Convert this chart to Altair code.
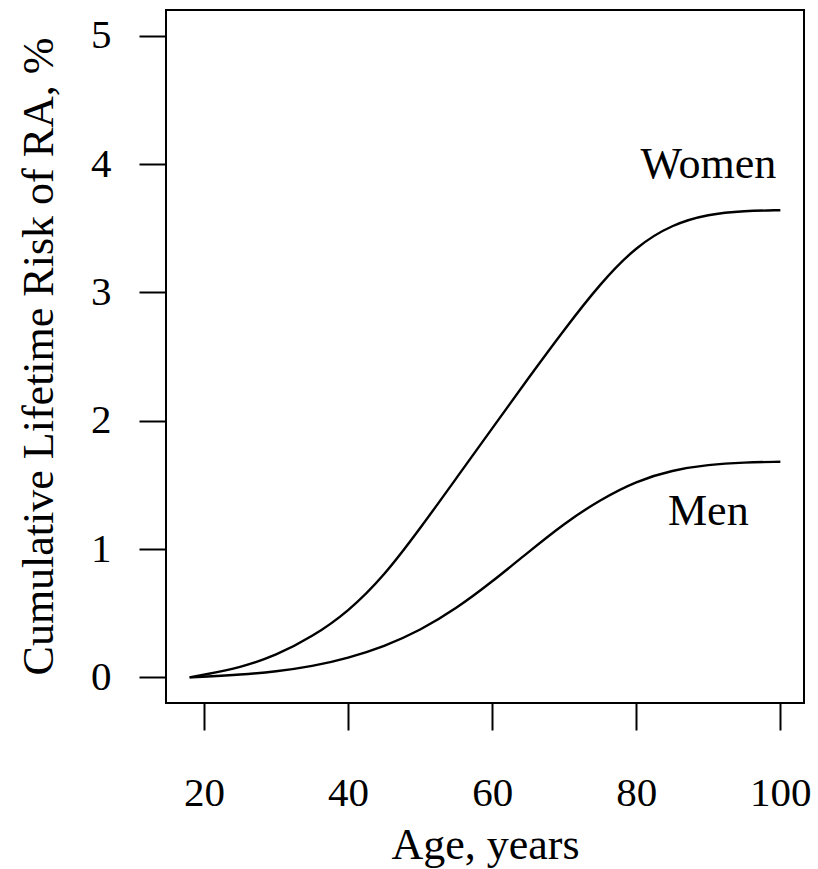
import altair as alt
import pandas as pd

# Data
ages = [18, 20, 25, 30, 35, 40, 45, 50, 55, 60, 65, 70, 75, 80, 85, 90, 95, 100]
women = [0.0, 0.02, 0.075, 0.17, 0.315, 0.51, 0.79, 1.16, 1.55, 1.94, 2.33, 2.71, 3.07, 3.36, 3.53, 3.61, 3.635, 3.64]
men = [0.0, 0.005, 0.02, 0.045, 0.085, 0.15, 0.24, 0.365, 0.535, 0.745, 0.975, 1.2, 1.385, 1.53, 1.615, 1.658, 1.675, 1.68]

label_text = ["Women", "Men"]
label_x = [90, 90]
label_y = [3.89, 1.19]

x_ticks = [20, 40, 60, 80, 100]
y_ticks = [0, 1, 2, 3, 4, 5]

rows = [{"age": a, "risk": v, "sex": "Women"} for a, v in zip(ages, women)]
rows += [{"age": a, "risk": v, "sex": "Men"} for a, v in zip(ages, men)]
df = pd.DataFrame(rows)
lab = pd.DataFrame({"text": label_text, "x": label_x, "y": label_y})

FONT = "Liberation Serif"

xs = alt.Scale(domain=[14.72, 103.28], nice=False, zero=False)
ys = alt.Scale(domain=[-0.2, 5.2], nice=False, zero=False)

common_axis = dict(
    domain=False, grid=False, tickColor="black", tickWidth=2, tickSize=27,
    labelFont=FONT, labelFontSize=41, labelColor="black",
    titleFont=FONT, titleFontSize=44, titleFontWeight="normal", titleColor="black",
    format="d",
)

x_axis = alt.Axis(
    values=x_ticks, title="Age, years",
    labelBaseline="alphabetic", labelPadding=75,
    titleX=319, titleY=155, titleBaseline="alphabetic", titleAlign="center",
    **common_axis,
)
y_axis = alt.Axis(
    values=y_ticks, title="Cumulative Lifetime Risk of RA, %",
    labelAlign="right", labelBaseline="middle", labelPadding=28,
    titleAngle=270, titleX=-114, titleY=346, titleBaseline="alphabetic", titleAlign="center",
    **common_axis,
)

lines = alt.Chart(df).mark_line(color="black", strokeWidth=2.4, interpolate="basis").encode(
    x=alt.X("age:Q", scale=xs, axis=x_axis),
    y=alt.Y("risk:Q", scale=ys, axis=y_axis),
    detail="sex:N",
)

texts = alt.Chart(lab).mark_text(
    font=FONT, fontSize=44, align="center", baseline="alphabetic", color="black"
).encode(
    x=alt.X("x:Q", scale=xs),
    y=alt.Y("y:Q", scale=ys),
    text="text:N",
)

chart = alt.layer(lines, texts).properties(
    width=638, height=693,
    autosize=alt.AutoSizeParams(type="none"),
    padding={"left": 166, "top": 10, "right": 14, "bottom": 166},
    background="white",
).configure_view(stroke="black", strokeWidth=2)

chart.save("out.html", embed_options={"renderer": "svg", "actions": False})
